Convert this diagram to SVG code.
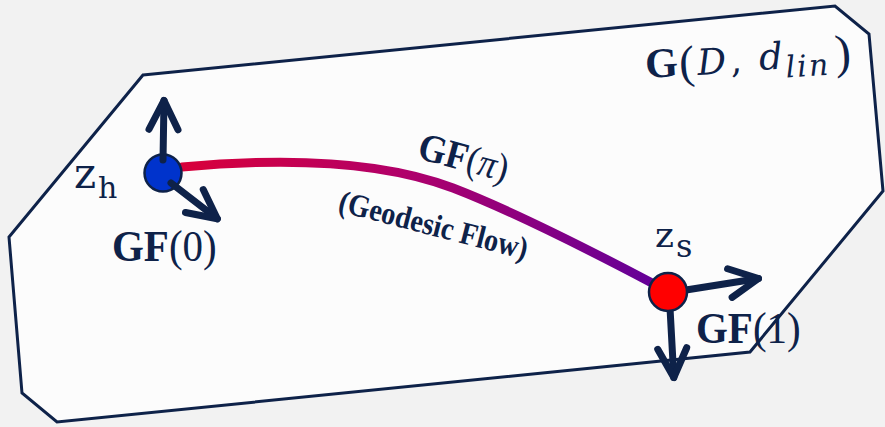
<svg xmlns="http://www.w3.org/2000/svg" width="885" height="427" viewBox="0 0 885 427">
  <defs>
    <style>
      .ink { fill: #0e2249; }
      .b { font-family: "Liberation Serif", serif; font-weight: bold; }
      .r { font-family: "Liberation Serif", serif; font-weight: normal; }
      .ri { font-family: "Liberation Serif", serif; font-style: italic; }
      .m { font-family: "DejaVu Serif", serif; }
      .mi { font-family: "DejaVu Serif", serif; font-style: italic; }
      .arrow { stroke: #0e2249; stroke-width: 7; stroke-linecap: round; fill: none; marker-end: url(#chev); }
      .node { stroke: #0e2249; stroke-width: 2.5; }
    </style>
    <marker id="chev" viewBox="-40 -20 50 40" refX="0" refY="0" markerWidth="50" markerHeight="40" orient="auto" markerUnits="userSpaceOnUse" overflow="visible">
      <path d="M-29,-14.5 L0,0 L-29,14.5" fill="none" stroke="#0e2249" stroke-width="7" stroke-linecap="round" stroke-linejoin="round"/>
    </marker>
    <linearGradient id="flow" gradientUnits="userSpaceOnUse" x1="182" y1="167" x2="652" y2="283">
      <stop offset="0" stop-color="#d8003a"/>
      <stop offset="0.45" stop-color="#b0006a"/>
      <stop offset="1" stop-color="#640098"/>
    </linearGradient>
  </defs>

  <rect x="0" y="0" width="885" height="427" fill="#f2f2f2"/>

  <g id="space">
    <polygon points="143,75 835,6 869,34 883,191 750,352 57,422 22,393 9,237" fill="#fcfcfc" stroke="#0e2249" stroke-width="3" stroke-linejoin="miter"/>
    <g class="ink" transform="rotate(-3.5 647 77)">
      <text class="b" x="646" y="78" font-size="42">G</text>
      <text class="r" x="680" y="80" font-size="46">(</text>
      <text class="mi" x="698" y="78" font-size="36">D</text>
      <text class="m" x="731" y="78" font-size="36">,</text>
      <text class="mi" x="760" y="77" font-size="37">d</text>
      <text class="mi" x="786" y="86" font-size="30" letter-spacing="2">lin</text>
      <text class="r" x="836" y="80" font-size="48">)</text>
    </g>
  </g>

  <g id="connectors">
    <path id="geodesic" d="M182,167 C280,158 380,160 453,188 C510,210 580,245 652,283" fill="none" stroke="url(#flow)" stroke-width="9" stroke-linecap="round"/>
    <g class="ink" transform="rotate(15 416 158)">
      <text x="416" y="158" font-size="36" transform="matrix(1 0 0 1.1 0 -15.8)"><tspan class="b">GF</tspan><tspan class="r">(</tspan><tspan class="ri">π</tspan><tspan class="r">)</tspan></text>
    </g>
    <g transform="rotate(14.5 337 211)">
      <text class="ink b" x="337" y="211" font-size="29" textLength="194" lengthAdjust="spacingAndGlyphs" transform="matrix(1 0 0 1.1 0 -21.1)">(Geodesic Flow)</text>
    </g>
  </g>

  <g id="node-zh">
    <circle class="node" cx="163" cy="173" r="18.5" fill="#0033cc"/>
    <line class="arrow" x1="163" y1="160" x2="164" y2="100.5"/>
    <line class="arrow" x1="171" y1="183" x2="217.3" y2="218.8"/>
    <text class="ink m" x="74" y="188" font-size="42">z</text>
    <text class="ink m" x="98" y="198" font-size="30">h</text>
    <text class="ink" x="112" y="261" font-size="41" transform="matrix(1 0 0 1.1 0 -26.1)"><tspan class="b">GF</tspan><tspan class="r">(0)</tspan></text>
  </g>

  <g id="node-zs">
    <line class="arrow" x1="686" y1="290" x2="758.5" y2="278.5"/>
    <line class="arrow" x1="670" y1="308" x2="673.8" y2="377.5"/>
    <circle class="node" cx="668" cy="292" r="19" fill="#ff0000"/>
    <text class="ink m" x="655" y="247" font-size="36">z</text>
    <text class="ink m" x="676" y="257" font-size="32">s</text>
    <text class="ink" x="696" y="343" font-size="41" transform="matrix(1 0 0 1.1 0 -34.3)"><tspan class="b">GF</tspan><tspan class="r">(1)</tspan></text>
  </g>
</svg>
